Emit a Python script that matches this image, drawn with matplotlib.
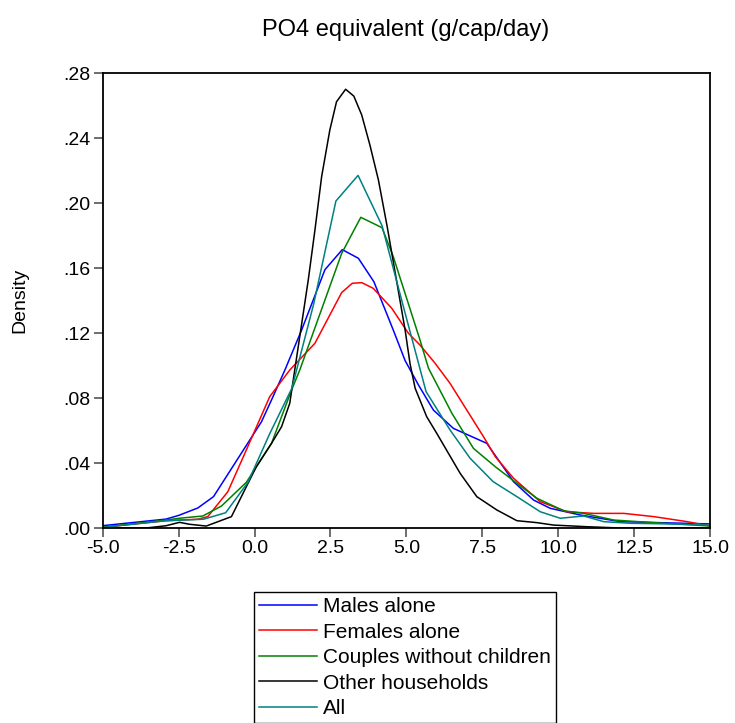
import numpy as np
import matplotlib
matplotlib.use('Agg')
import matplotlib.pyplot as plt

plt.rcParams['font.family'] = ['Liberation Sans', 'DejaVu Sans']

# ---------------------------------------------------------------------------
# data (x in g/cap/day, density)
males_x = [-5.02, -2.91, -2.49, -1.87, -1.35, 0.23, 0.56, 1.00, 1.55, 2.32, 2.89,
           3.42, 3.93, 4.57, 4.96, 5.40, 5.89, 6.55, 7.65, 8.53, 9.19, 9.74,
           10.73, 12.05, 15.02]
males_y = [0.0014, 0.0055, 0.0078, 0.0123, 0.0193, 0.0654, 0.0788, 0.0972, 0.1218,
           0.159, 0.1713, 0.166, 0.1516, 0.1218, 0.103, 0.088, 0.0726, 0.0613,
           0.0521, 0.0285, 0.0172, 0.0121, 0.008, 0.0039, 0.0025]

females_x = [-5.02, -2.91, -1.87, -1.54, -0.88, -0.27, 0.50, 1.16, 1.99, 2.87, 3.22,
             3.53, 3.91, 4.52, 5.07, 5.45, 5.95, 6.44, 6.99, 7.54, 7.93, 8.53,
             9.41, 10.29, 11.17, 12.16, 13.15, 14.25, 15.02]
females_y = [0.0004, 0.0045, 0.0054, 0.007, 0.0223, 0.048, 0.0808, 0.0972, 0.1137,
             0.1449, 0.1506, 0.151, 0.1475, 0.1352, 0.1198, 0.1126, 0.1013, 0.089,
             0.0726, 0.0562, 0.0439, 0.0306, 0.0162, 0.010, 0.009, 0.009, 0.007,
             0.0039, 0.0012]

couples_x = [-5.02, -2.91, -2.47, -1.70, -1.09, -0.27, 0.56, 1.22, 1.49, 2.87, 3.50,
             4.20, 4.57, 5.45, 5.73, 6.50, 7.21, 7.93, 8.64, 9.30, 10.18, 10.84,
             11.83, 13.15, 15.02]
couples_y = [0.0004, 0.0049, 0.006, 0.0074, 0.0135, 0.0281, 0.0521, 0.0849, 0.0972,
             0.169, 0.1912, 0.1848, 0.167, 0.1157, 0.0983, 0.0706, 0.049, 0.0377,
             0.0275, 0.0183, 0.0106, 0.009, 0.0049, 0.0033, 0.0012]

other_x = [-5.02, -3.57, -2.91, -2.47, -2.14, -1.59, -0.76, -0.27, 0.06, 0.56, 0.89,
           1.16, 1.44, 1.77, 1.99, 2.21, 2.48, 2.70, 3.00, 3.27, 3.53, 3.80, 4.08,
           4.37, 4.96, 5.12, 5.29, 5.67, 6.00, 6.77, 7.32, 7.98, 8.64, 9.30, 9.85,
           10.95, 12.05, 15.02]
other_y = [0.0, 0.0, 0.0014, 0.0035, 0.0023, 0.0012, 0.007, 0.0254, 0.0377, 0.0521,
           0.0623, 0.0767, 0.1116, 0.1526, 0.1834, 0.2162, 0.2449, 0.2623, 0.270,
           0.2658, 0.2542, 0.2357, 0.2142, 0.1854, 0.1218, 0.1013, 0.086, 0.0685,
           0.0583, 0.0337, 0.0193, 0.0111, 0.0045, 0.0033, 0.0018, 0.0008, 0.0, 0.0]

all_x = [-5.02, -2.91, -1.68, -0.95, -0.22, 0.50, 1.23, 1.95, 2.68, 3.41, 4.20,
         4.92, 5.65, 6.44, 7.10, 7.86, 8.64, 9.41, 10.07, 10.84, 11.50, 12.38,
         13.70, 15.02]
all_y = [0.0004, 0.0045, 0.0054, 0.0094, 0.028, 0.058, 0.086, 0.138, 0.2012, 0.217,
         0.186, 0.135, 0.0839, 0.0603, 0.0429, 0.0285, 0.0193, 0.010, 0.006, 0.0074,
         0.0039, 0.0029, 0.0025, 0.0018]

xticks = [-5.0, -2.5, 0.0, 2.5, 5.0, 7.5, 10.0, 12.5, 15.0]
xtick_labels = ['-5.0', '-2.5', '0.0', '2.5', '5.0', '7.5', '10.0', '12.5', '15.0']
yticks = [0.0, 0.04, 0.08, 0.12, 0.16, 0.20, 0.24, 0.28]
ytick_labels = ['.00', '.04', '.08', '.12', '.16', '.20', '.24', '.28']

# ---------------------------------------------------------------------------
fig = plt.figure(figsize=(7.35, 7.23), dpi=100)
fig.patch.set_facecolor('white')
ax = fig.add_axes([0.1397, 0.2697, 0.8263, 0.6293])
fontsize = 14

lw = 1.1
ax.plot(males_x, males_y, color='#0000ff', linewidth=lw, label='Males alone')
ax.plot(females_x, females_y, color='#ff0000', linewidth=lw, label='Females alone')
ax.plot(couples_x, couples_y, color='#008000', linewidth=lw, label='Couples without children')
ax.plot(other_x, other_y, color='black', linewidth=lw, label='Other households')
ax.plot(all_x, all_y, color='#008080', linewidth=lw, label='All')

ax.set_xlim([-5, 15])
ax.set_ylim([0, 0.28])
ax.set_xticks(xticks)
ax.set_xticklabels(xtick_labels)
ax.set_yticks(yticks)
ax.set_yticklabels(ytick_labels)
ax.tick_params(axis='both', direction='out', length=6.5, width=1.2, color='#555555',
               labelsize=fontsize, pad=2)
for s in ax.spines.values():
    s.set_linewidth(1.3)
    s.set_color('black')

fig.text(406/735, 1-30/723, 'PO4 equivalent (g/cap/day)', ha='center', va='center',
         size=17)
fig.text(20/735, 1-300/723, 'Density', ha='center', va='center', rotation=90,
         size=fontsize)

leg = fig.legend(loc='upper left', bbox_to_anchor=(254/735, 1-592/723), fontsize=15,
                 handlelength=2.75, handletextpad=0.3, labelspacing=0.31,
                 borderpad=0.25, borderaxespad=0, fancybox=False, framealpha=1,
                 edgecolor='black')
leg.get_frame().set_linewidth(1.0)

fig.savefig('out.png', dpi=100)
